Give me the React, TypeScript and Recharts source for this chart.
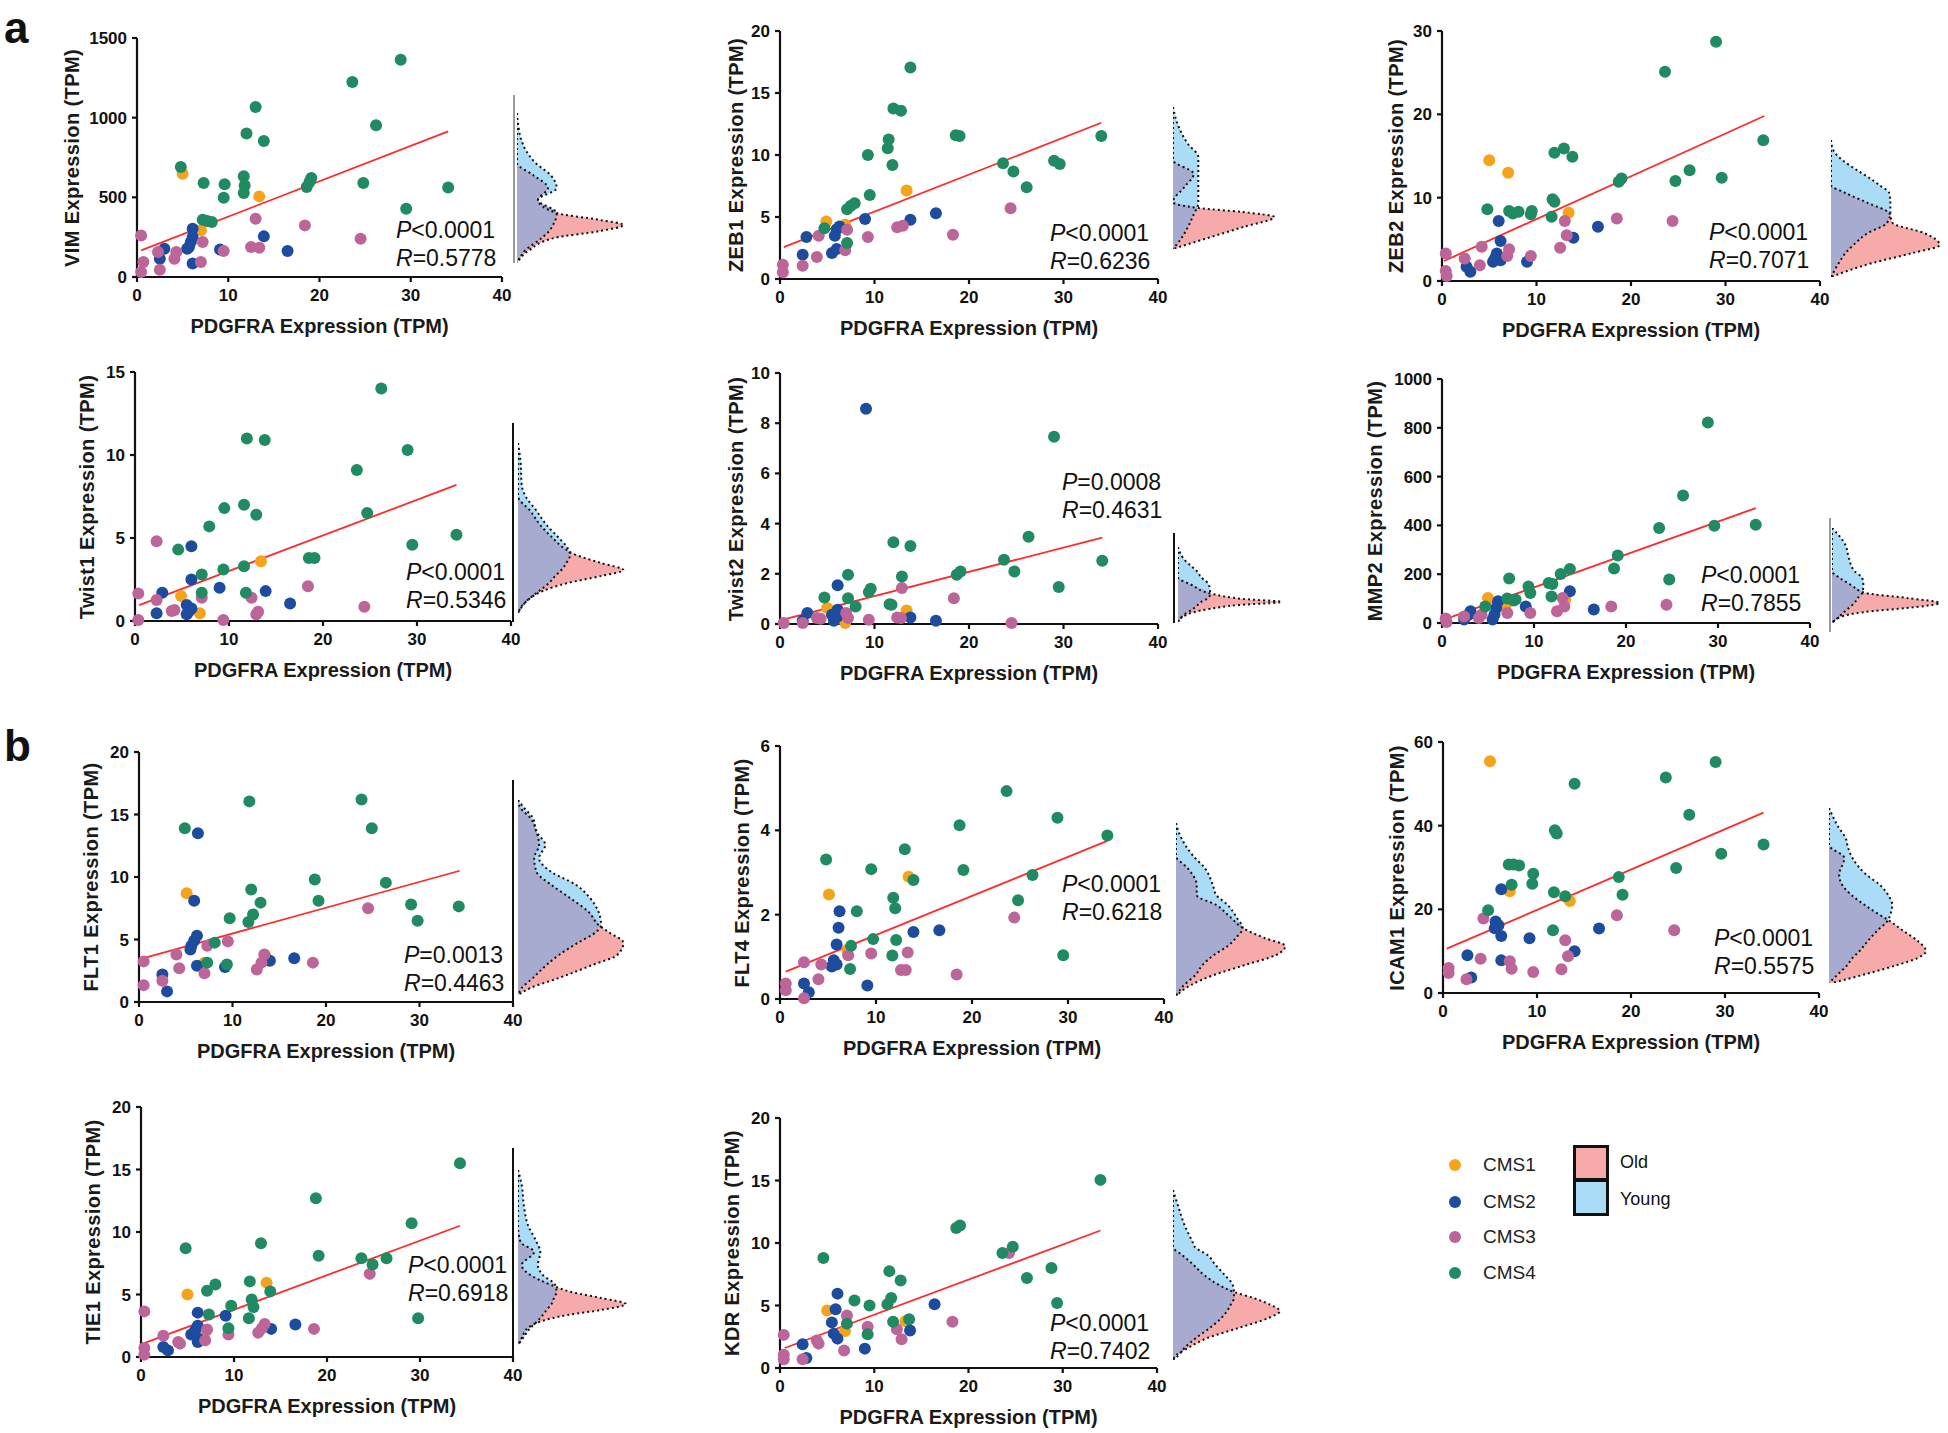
import React from 'react';
import { ComposedChart, Scatter, XAxis, YAxis, ReferenceLine, AreaChart, Area } from 'recharts';

type Pt = [number, number, number];

// ---------- legend / categories ----------
const CMS_NAMES = ['CMS1', 'CMS2', 'CMS3', 'CMS4'];
const CMS_COLORS = ['#f6a31c', '#1d4c9f', '#bd6598', '#208a62'];
const AGE_NAMES = ['Old', 'Young'];
const AGE_COLORS = ['#f7aaaa', '#aadcf8'];
const OVERLAP_COLOR = '#a7abd0';
const X_TICKS = [0, 10, 20, 30, 40];
const X_LABEL = 'PDGFRA Expression (TPM)';

// ---------- scatter data: [PDGFRA, gene, CMS group] ----------
const VIM_PTS: Pt[] = [
  [28.9, 1364, 4], [23.6, 1224, 4], [13.0, 1067, 4], [26.2, 952, 4], [12.0, 900, 4], [13.9, 854, 4], [4.8, 690, 4], [7.3, 590, 4], [9.6, 582, 4], [9.5, 498, 4], [11.7, 632, 4], [11.8, 575, 4], [11.7, 527, 4], [19.1, 621, 4], [18.9, 596, 4], [18.6, 565, 4], [24.8, 590, 4], [29.5, 429, 4], [34.1, 561, 4], [7.2, 360, 4], [7.7, 351, 4], [8.2, 345, 4],
  [5.0, 648, 1], [13.4, 506, 1], [7.0, 293, 1],
  [6.1, 303, 2], [6.1, 251, 2], [5.9, 220, 2], [5.7, 188, 2], [5.5, 178, 2], [3.0, 178, 2], [2.5, 115, 2], [6.1, 84, 2], [9.1, 172, 2], [13.9, 255, 2], [16.5, 163, 2],
  [0.45, 261, 3], [0.7, 94, 3], [0.45, 31, 3], [2.5, 46, 3], [2.3, 157, 3], [4.1, 115, 3], [4.3, 157, 3], [7.2, 220, 3], [7.0, 94, 3], [9.5, 163, 3], [12.5, 188, 3], [13.4, 184, 3], [13.0, 366, 3], [18.4, 324, 3], [24.5, 240, 3],
];
const VIM_LINE = [[0.45, 167], [34.1, 914]];

const ZEB1_PTS: Pt[] = [
  [13.8, 17.05, 4], [12.0, 13.75, 4], [12.8, 13.57, 4], [11.5, 11.26, 4], [11.4, 10.54, 4], [11.9, 9.2, 4], [9.3, 10.0, 4], [9.5, 6.78, 4], [7.1, 5.63, 4], [7.5, 5.9, 4], [7.9, 6.11, 4], [18.6, 11.6, 4], [19.0, 11.53, 4], [23.6, 9.33, 4], [24.7, 8.66, 4], [26.1, 7.4, 4], [29.0, 9.54, 4], [29.6, 9.28, 4], [34.0, 11.53, 4], [7.1, 2.9, 4], [4.7, 4.1, 4],
  [4.9, 4.64, 1], [6.9, 4.37, 1], [13.4, 7.13, 1],
  [2.8, 3.38, 2], [2.4, 1.96, 2], [5.8, 3.49, 2], [6.0, 4.02, 2], [6.3, 4.24, 2], [5.5, 2.09, 2], [6.0, 2.41, 2], [9.0, 4.83, 2], [13.8, 4.77, 2], [16.5, 5.31, 2],
  [0.3, 1.15, 3], [0.3, 0.54, 3], [2.4, 1.07, 3], [3.9, 1.77, 3], [4.1, 3.49, 3], [6.9, 2.31, 3], [7.1, 3.97, 3], [9.3, 3.38, 3], [12.4, 4.18, 3], [13.0, 4.29, 3], [18.3, 3.57, 3], [24.4, 5.71, 3],
];
const ZEB1_LINE = [[0.4, 2.57], [34.0, 12.6]];

const ZEB2_PTS: Pt[] = [
  [29.0, 28.7, 4], [23.6, 25.1, 4], [34.0, 16.9, 4], [11.9, 15.4, 4], [12.9, 15.9, 4], [13.8, 14.9, 4], [26.2, 13.3, 4], [29.6, 12.4, 4], [24.7, 12.0, 4], [18.7, 11.9, 4], [19.0, 12.3, 4], [11.7, 9.8, 4], [11.9, 9.5, 4], [4.8, 8.6, 4], [7.1, 8.4, 4], [7.5, 8.1, 4], [8.1, 8.3, 4], [9.5, 8.4, 4], [9.4, 8.0, 4], [11.6, 7.7, 4],
  [5.0, 14.5, 1], [7.0, 13.0, 1], [13.4, 8.2, 1],
  [6.0, 7.2, 2], [6.2, 4.8, 2], [5.8, 3.3, 2], [5.6, 2.7, 2], [5.4, 2.3, 2], [6.2, 2.5, 2], [2.6, 1.7, 2], [3.0, 1.1, 2], [9.0, 2.3, 2], [13.9, 5.2, 2], [16.5, 6.5, 2],
  [0.4, 3.3, 3], [0.4, 1.2, 3], [0.5, 0.6, 3], [2.4, 2.7, 3], [4.0, 1.9, 3], [4.2, 4.1, 3], [7.1, 3.8, 3], [6.9, 3.0, 3], [9.4, 3.0, 3], [12.5, 4.0, 3], [13.2, 5.5, 3], [13.0, 7.2, 3], [18.5, 7.5, 3], [24.4, 7.2, 3],
];
const ZEB2_LINE = [[0.2, 2.4], [34.1, 19.8]];

const TWIST1_PTS: Pt[] = [
  [26.2, 14.0, 4], [11.9, 11.0, 4], [13.8, 10.9, 4], [29.0, 10.3, 4], [23.6, 9.1, 4], [9.5, 6.8, 4], [11.6, 7.0, 4], [12.9, 6.4, 4], [24.7, 6.5, 4], [7.9, 5.7, 4], [34.2, 5.2, 4], [29.5, 4.6, 4], [4.6, 4.3, 4], [18.5, 3.8, 4], [19.1, 3.8, 4], [9.4, 3.1, 4], [11.6, 3.3, 4], [7.1, 2.8, 4], [7.1, 1.7, 4], [11.8, 1.7, 4],
  [13.4, 3.6, 1], [4.9, 1.5, 1], [6.9, 0.46, 1],
  [6.0, 4.5, 2], [6.0, 2.5, 2], [2.9, 1.7, 2], [2.3, 0.46, 2], [5.5, 0.96, 2], [5.7, 0.56, 2], [6.0, 0.76, 2], [5.5, 0.4, 2], [9.0, 2.0, 2], [13.9, 1.8, 2], [16.5, 1.06, 2],
  [2.3, 4.8, 3], [0.35, 1.66, 3], [0.35, 0.06, 3], [2.3, 1.26, 3], [3.9, 0.6, 3], [4.2, 0.66, 3], [7.1, 1.4, 3], [9.4, 0.06, 3], [12.4, 1.4, 3], [13.1, 0.56, 3], [12.9, 0.4, 3], [18.4, 2.1, 3], [24.4, 0.86, 3],
];
const TWIST1_LINE = [[0.44, 0.96], [34.2, 8.2]];

const TWIST2_PTS: Pt[] = [
  [9.1, 8.58, 2], [6.1, 1.54, 2], [2.9, 0.44, 2], [2.4, 0.13, 2], [5.5, 0.37, 2], [5.7, 0.13, 2], [6.1, 0.57, 2], [6.1, 0.3, 2], [13.8, 0.26, 2], [16.5, 0.13, 2],
  [29.0, 7.46, 4], [26.3, 3.48, 4], [12.0, 3.26, 4], [13.8, 3.11, 4], [23.7, 2.56, 4], [34.1, 2.52, 4], [18.7, 1.96, 4], [19.1, 2.09, 4], [24.8, 2.09, 4], [12.9, 1.89, 4], [7.2, 1.96, 4], [9.6, 1.4, 4], [9.4, 1.27, 4], [29.5, 1.47, 4], [4.7, 1.06, 4], [7.2, 1.03, 4], [8.0, 0.7, 4], [11.6, 0.79, 4], [11.8, 0.77, 4],
  [5.0, 0.64, 1], [13.4, 0.54, 1], [6.9, 0.04, 1],
  [12.9, 1.43, 3], [18.4, 1.03, 3], [0.4, 0.04, 3], [2.4, 0.04, 3], [3.9, 0.24, 3], [4.3, 0.21, 3], [7.0, 0.44, 3], [7.2, 0.24, 3], [9.4, 0.17, 3], [12.4, 0.26, 3], [12.8, 0.24, 3], [24.5, 0.04, 3],
];
const TWIST2_LINE = [[0.3, 0.17], [34.1, 3.44]];

const MMP2_PTS: Pt[] = [
  [28.9, 822, 4], [26.2, 523, 4], [23.6, 389, 4], [29.6, 399, 4], [34.1, 403, 4], [19.1, 277, 4], [18.7, 223, 4], [24.7, 178, 4], [13.9, 221, 4], [12.9, 201, 4], [7.3, 182, 4], [9.4, 150, 4], [9.6, 123, 4], [11.6, 164, 4], [12.0, 160, 4], [11.9, 109, 4], [7.1, 100, 4], [8.0, 96, 4], [7.8, 92, 4], [4.7, 68, 4],
  [5.0, 102, 1], [13.4, 96, 1], [6.9, 68, 1],
  [13.9, 130, 2], [16.5, 55, 2], [9.1, 68, 2], [6.1, 89, 2], [5.9, 61, 2], [5.7, 34, 2], [5.5, 14, 2], [3.1, 48, 2], [2.9, 34, 2], [2.4, 14, 2],
  [13.1, 102, 3], [13.3, 68, 3], [12.5, 48, 3], [18.4, 68, 3], [24.4, 75, 3], [9.6, 41, 3], [7.1, 41, 3], [4.3, 34, 3], [4.0, 20, 3], [2.4, 27, 3], [0.4, 18, 3], [0.5, 4, 3],
];
const MMP2_LINE = [[0.2, 14], [34.1, 471]];

const FLT1_PTS: Pt[] = [
  [11.8, 16.05, 4], [23.8, 16.2, 4], [24.9, 13.9, 4], [4.9, 13.9, 4], [18.8, 9.8, 4], [26.4, 9.55, 4], [12.0, 9.0, 4], [13.0, 7.95, 4], [19.2, 8.1, 4], [29.1, 7.8, 4], [34.2, 7.65, 4], [9.7, 6.7, 4], [12.2, 7.0, 4], [11.7, 6.4, 4], [29.8, 6.5, 4], [8.1, 4.75, 4], [7.3, 3.15, 4], [9.4, 3.0, 4],
  [5.1, 8.7, 1], [13.5, 3.7, 1], [7.0, 3.15, 1],
  [6.3, 13.5, 2], [5.9, 8.1, 2], [6.2, 5.3, 2], [5.9, 4.9, 2], [5.6, 4.5, 2], [5.5, 4.2, 2], [6.2, 2.9, 2], [2.5, 2.2, 2], [3.0, 0.85, 2], [9.2, 2.8, 2], [14.0, 3.3, 2], [16.6, 3.5, 2],
  [24.5, 7.5, 3], [7.3, 4.5, 3], [9.5, 4.85, 3], [4.0, 3.8, 3], [0.5, 3.25, 3], [4.3, 2.7, 3], [7.0, 2.3, 3], [2.5, 1.7, 3], [0.5, 1.35, 3], [13.4, 3.8, 3], [13.1, 3.15, 3], [12.6, 2.6, 3], [18.6, 3.15, 3],
];
const FLT1_LINE = [[0.2, 3.45], [34.3, 10.5]];

const FLT4_PTS: Pt[] = [
  [23.6, 4.93, 4], [28.9, 4.3, 4], [18.7, 4.12, 4], [34.1, 3.88, 4], [13.0, 3.55, 4], [4.8, 3.31, 4], [9.5, 3.08, 4], [19.1, 3.06, 4], [26.3, 2.94, 4], [13.9, 2.82, 4], [11.8, 2.4, 4], [24.8, 2.34, 4], [12.0, 2.15, 4], [8.0, 2.08, 4], [9.7, 1.42, 4], [12.1, 1.4, 4], [7.4, 1.26, 4], [11.7, 1.03, 4], [29.5, 1.04, 4], [7.3, 0.71, 4],
  [5.1, 2.48, 1], [13.4, 2.9, 1], [7.0, 1.16, 1],
  [6.2, 2.08, 2], [6.1, 1.69, 2], [5.9, 1.29, 2], [5.6, 0.92, 2], [5.9, 0.82, 2], [5.4, 0.77, 2], [13.9, 1.59, 2], [16.6, 1.63, 2], [2.5, 0.37, 2], [3.0, 0.16, 2], [9.1, 0.32, 2],
  [24.4, 1.93, 3], [9.5, 1.08, 3], [13.3, 1.1, 3], [7.1, 1.04, 3], [12.6, 0.69, 3], [13.1, 0.69, 3], [18.4, 0.58, 3], [4.3, 0.82, 3], [4.0, 0.47, 3], [2.5, 0.87, 3], [0.6, 0.37, 3], [0.6, 0.21, 3], [2.5, 0.02, 3],
];
const FLT4_LINE = [[0.6, 0.65], [34.1, 3.75]];

const ICAM1_PTS: Pt[] = [
  [29.0, 55.2, 4], [23.7, 51.5, 4], [14.0, 50.0, 4], [26.2, 42.6, 4], [11.9, 38.9, 4], [12.1, 38.1, 4], [34.1, 35.5, 4], [29.6, 33.3, 4], [7.0, 30.7, 4], [7.5, 30.7, 4], [8.1, 30.5, 4], [24.8, 29.9, 4], [9.6, 28.5, 4], [9.5, 26.1, 4], [7.3, 25.9, 4], [18.7, 27.7, 4], [19.1, 23.5, 4], [11.8, 24.1, 4], [13.0, 23.1, 4], [4.8, 19.8, 4], [11.7, 15.0, 4],
  [5.0, 55.4, 1], [7.1, 24.3, 1], [13.5, 22.0, 1],
  [6.2, 24.8, 2], [5.6, 17.1, 2], [5.9, 16.2, 2], [5.5, 15.5, 2], [6.2, 13.6, 2], [9.2, 13.1, 2], [16.6, 15.4, 2], [14.0, 10.0, 2], [6.2, 7.8, 2], [2.6, 9.0, 2], [3.0, 3.7, 2],
  [4.3, 17.8, 3], [18.5, 18.6, 3], [24.6, 15.0, 3], [13.0, 12.6, 3], [13.3, 8.8, 3], [4.0, 8.2, 3], [7.1, 7.6, 3], [7.3, 5.8, 3], [9.6, 5.0, 3], [12.6, 5.7, 3], [0.6, 6.0, 3], [0.6, 4.8, 3], [2.5, 3.3, 3],
];
const ICAM1_LINE = [[0.4, 10.6], [34.1, 43.1]];

const TIE1_PTS: Pt[] = [
  [34.3, 15.5, 4], [18.8, 12.7, 4], [29.1, 10.7, 4], [4.8, 8.7, 4], [12.9, 9.1, 4], [19.1, 8.1, 4], [23.7, 7.9, 4], [24.9, 7.4, 4], [26.4, 7.9, 4], [11.7, 6.05, 4], [8.0, 5.8, 4], [7.1, 5.3, 4], [13.9, 5.25, 4], [11.9, 4.6, 4], [12.1, 4.0, 4], [9.7, 4.1, 4], [11.6, 3.1, 4], [7.3, 3.4, 4], [9.4, 2.3, 4], [29.8, 3.1, 4],
  [5.0, 5.0, 1], [13.5, 5.95, 1], [6.9, 1.95, 1],
  [6.1, 3.55, 2], [9.1, 3.3, 2], [16.6, 2.6, 2], [14.0, 2.25, 2], [6.1, 2.5, 2], [5.8, 2.1, 2], [5.4, 1.8, 2], [6.2, 1.45, 2], [6.1, 1.2, 2], [2.4, 0.8, 2], [2.9, 0.53, 2],
  [24.6, 6.65, 3], [0.36, 3.65, 3], [2.4, 1.7, 3], [4.0, 1.2, 3], [4.2, 1.07, 3], [6.9, 1.33, 3], [7.1, 2.2, 3], [9.4, 1.8, 3], [12.6, 1.95, 3], [13.0, 2.3, 3], [13.3, 2.65, 3], [18.6, 2.25, 3], [0.36, 0.72, 3], [0.36, 0.19, 3],
];
const TIE1_LINE = [[0.2, 1.07], [34.3, 10.5]];

const KDR_PTS: Pt[] = [
  [34.0, 15.05, 4], [18.7, 11.2, 4], [19.1, 11.4, 4], [4.6, 8.8, 4], [23.6, 9.2, 4], [24.7, 9.7, 4], [28.8, 8.0, 4], [11.6, 7.75, 4], [12.8, 7.0, 4], [26.2, 7.2, 4], [7.9, 5.4, 4], [9.5, 5.0, 4], [11.8, 5.6, 4], [11.4, 5.1, 4], [29.4, 5.2, 4], [12.0, 3.7, 4], [13.7, 3.9, 4], [7.1, 3.55, 4], [9.3, 2.7, 4],
  [5.0, 4.6, 1], [13.3, 3.75, 1], [6.9, 2.95, 1],
  [6.1, 5.95, 2], [5.9, 4.7, 2], [5.5, 3.65, 2], [5.7, 2.75, 2], [6.1, 2.35, 2], [16.4, 5.1, 2], [13.8, 3.0, 2], [2.4, 1.9, 2], [2.8, 0.8, 2], [9.0, 1.55, 2],
  [24.3, 9.2, 3], [7.1, 4.2, 3], [9.3, 3.3, 3], [12.4, 3.1, 3], [12.9, 2.3, 3], [18.3, 3.7, 3], [3.9, 2.2, 3], [4.1, 1.95, 3], [0.4, 2.65, 3], [0.4, 1.07, 3], [0.4, 0.7, 3], [2.4, 0.7, 3], [6.8, 1.4, 3],
];
const KDR_LINE = [[0.5, 1.6], [34.0, 11.0]];

// ---------- marginal densities (depth from top of marginal, young / old density) ----------
const VIM_DEN = { d: [0, 12, 25, 37, 50, 62, 75, 87, 100, 107, 112, 118, 125, 137, 150], young: [0, 1, 3, 7, 15, 27, 32, 17, 32, 31, 29, 26, 20, 7, 0], old: [0, 0, 0, 0, 0, 13, 25, 17, 32, 67, 86, 67, 30, 10, 0] };
const ZEB1_DEN = { d: [0, 20, 37, 50, 53, 67, 80, 95, 101, 105, 110, 120, 130, 142], young: [0, 5, 13, 22, 22, 22, 22, 22, 21, 19, 17, 13, 8, 0], old: [0, 0, 0, 0, 0, 18, 10, 0, 22, 60, 88, 61, 33, 0] };
const ZEB2_DEN = { d: [0, 10, 20, 30, 40, 45, 53, 63, 73, 83, 93, 105, 113, 123, 137], young: [0, 2, 10, 23, 37, 43, 52, 53, 53, 50, 33, 20, 13, 7, 0], old: [0, 0, 0, 0, 0, 0, 13, 33, 52, 55, 83, 97, 73, 37, 0] };
const TWIST1_DEN = { d: [0, 18, 42, 53, 68, 82, 95, 105, 112, 120, 127, 133, 140, 148, 158, 170], young: [0, 2, 3, 6, 15, 23, 33, 40, 42, 39, 35, 30, 25, 17, 7, 0], old: [0, 0, 0, 0, 10, 18, 28, 37, 47, 67, 85, 67, 40, 20, 7, 0] };
const TWIST2_DEN = { d: [0, 12, 25, 30, 38, 47, 52, 55, 58, 62, 68, 75], young: [0, 5, 17, 20, 27, 28, 25, 20, 17, 13, 5, 0], old: [0, 0, 0, 0, 12, 30, 57, 90, 53, 27, 7, 0] };
const MMP2_DEN = { d: [0, 17, 30, 43, 50, 57, 65, 70, 75, 80, 83, 88, 95], young: [0, 12, 15, 20, 27, 28, 27, 23, 20, 15, 12, 7, 0], old: [0, 0, 0, 0, 7, 17, 30, 67, 96, 67, 37, 10, 0] };
const FLT1_DEN = { d: [0, 8, 18, 32, 45, 58, 72, 85, 98, 112, 125, 132, 143, 155, 165, 178, 188, 195], young: [0, 5, 12, 15, 22, 17, 27, 47, 58, 65, 67, 63, 48, 33, 23, 12, 3, 0], old: [0, 2, 10, 15, 17, 13, 15, 27, 42, 57, 65, 73, 85, 80, 60, 33, 10, 0] };
const FLT4_DEN = { d: [0, 8, 22, 33, 45, 62, 72, 82, 95, 105, 115, 123, 132, 142, 152, 162, 173], young: [0, 2, 8, 15, 25, 32, 35, 45, 53, 58, 52, 45, 33, 23, 17, 7, 0], old: [0, 0, 0, 0, 10, 18, 18, 35, 48, 58, 77, 95, 87, 60, 33, 13, 0] };
const ICAM1_DEN = { d: [0, 17, 32, 37, 50, 67, 77, 87, 97, 107, 112, 123, 133, 143, 150, 157, 165, 175], young: [0, 8, 17, 18, 23, 37, 50, 58, 62, 60, 58, 47, 38, 30, 23, 18, 10, 0], old: [0, 0, 0, 0, 15, 10, 13, 22, 35, 50, 58, 73, 87, 95, 87, 67, 40, 3] };
const TIE1_DEN = { d: [0, 15, 38, 55, 72, 82, 95, 105, 115, 122, 128, 134, 140, 145, 152, 158, 168, 175], young: [0, 3, 5, 8, 15, 18, 16, 20, 30, 31, 29, 27, 23, 20, 15, 10, 4, 0], old: [0, 0, 0, 0, 2, 13, 3, 10, 27, 43, 67, 87, 67, 40, 17, 8, 3, 0] };
const KDR_DEN = { d: [0, 18, 35, 52, 57, 65, 75, 85, 95, 102, 108, 115, 121, 128, 138, 148, 158, 165, 170], young: [0, 5, 10, 17, 19, 30, 37, 45, 52, 53, 53, 50, 47, 42, 32, 20, 10, 5, 0], old: [0, 0, 0, 0, 0, 8, 18, 27, 40, 53, 70, 85, 93, 83, 57, 30, 13, 3, 0] };

// ---------- panel layout ----------
const FONT = '"Liberation Sans", Arial, Helvetica, sans-serif';

type Panel = {
  gene: string; pts: Pt[]; line: number[][]; yMax: number; yTicks: number[];
  box: [number, number, number, number]; yTitleX: number;
  pText: string; rText: string; stat: [number, number];
  den: { d: number[]; young: number[]; old: number[] }; margin: [number, number]; denScale: number;
  axisLine?: [number, number, number, string];
};

const PANELS: Panel[] = [
  { gene: 'VIM', pts: VIM_PTS, line: VIM_LINE, yMax: 1500, yTicks: [0, 500, 1000, 1500], box: [137, 38, 502, 277], yTitleX: 72, pText: '<0.0001', rText: '0.5778', stat: [396, 230], den: VIM_DEN, margin: [517, 113], denScale: 1.24, axisLine: [514, 95, 263, '#9a9a9a'] },
  { gene: 'ZEB1', pts: ZEB1_PTS, line: ZEB1_LINE, yMax: 20, yTicks: [0, 5, 10, 15, 20], box: [780, 31, 1158, 279], yTitleX: 736, pText: '<0.0001', rText: '0.6236', stat: [1050, 233], den: ZEB1_DEN, margin: [1173, 107], denScale: 1.15 },
  { gene: 'ZEB2', pts: ZEB2_PTS, line: ZEB2_LINE, yMax: 30, yTicks: [0, 10, 20, 30], box: [1442, 31, 1820, 281], yTitleX: 1396, pText: '<0.0001', rText: '0.7071', stat: [1709, 232], den: ZEB2_DEN, margin: [1831, 140], denScale: 1.12 },
  { gene: 'Twist1', pts: TWIST1_PTS, line: TWIST1_LINE, yMax: 15, yTicks: [0, 5, 10, 15], box: [135, 372, 511, 621], yTitleX: 87, pText: '<0.0001', rText: '0.5346', stat: [406, 572], den: TWIST1_DEN, margin: [518, 443], denScale: 1.24, axisLine: [513, 423, 622, '#111'] },
  { gene: 'Twist2', pts: TWIST2_PTS, line: TWIST2_LINE, yMax: 10, yTicks: [0, 2, 4, 6, 8, 10], box: [780, 373, 1158, 624], yTitleX: 736, pText: '=0.0008', rText: '0.4631', stat: [1062, 482], den: TWIST2_DEN, margin: [1178, 547], denScale: 1.15, axisLine: [1174, 533, 623, '#111'] },
  { gene: 'MMP2', pts: MMP2_PTS, line: MMP2_LINE, yMax: 1000, yTicks: [0, 200, 400, 600, 800, 1000], box: [1442, 379, 1810, 623], yTitleX: 1375, pText: '<0.0001', rText: '0.7855', stat: [1701, 575], den: MMP2_DEN, margin: [1832, 528], denScale: 1.12, axisLine: [1830, 518, 632, '#9a9a9a'] },
  { gene: 'FLT1', pts: FLT1_PTS, line: FLT1_LINE, yMax: 20, yTicks: [0, 5, 10, 15, 20], box: [139, 752, 513, 1002], yTitleX: 91, pText: '=0.0013', rText: '0.4463', stat: [404, 955], den: FLT1_DEN, margin: [518, 800], denScale: 1.24, axisLine: [513, 780, 1002, '#111'] },
  { gene: 'FLT4', pts: FLT4_PTS, line: FLT4_LINE, yMax: 6, yTicks: [0, 2, 4, 6], box: [780, 746, 1164, 999], yTitleX: 742, pText: '<0.0001', rText: '0.6218', stat: [1062, 884], den: FLT4_DEN, margin: [1176, 823], denScale: 1.15 },
  { gene: 'ICAM1', pts: ICAM1_PTS, line: ICAM1_LINE, yMax: 60, yTicks: [0, 20, 40, 60], box: [1443, 742, 1819, 993], yTitleX: 1397, pText: '<0.0001', rText: '0.5575', stat: [1714, 938], den: ICAM1_DEN, margin: [1829, 808], denScale: 1.02 },
  { gene: 'TIE1', pts: TIE1_PTS, line: TIE1_LINE, yMax: 20, yTicks: [0, 5, 10, 15, 20], box: [141, 1107, 513, 1357], yTitleX: 93, pText: '<0.0001', rText: '0.6918', stat: [408, 1265], den: TIE1_DEN, margin: [518, 1170], denScale: 1.24, axisLine: [513, 1148, 1358, '#111'] },
  { gene: 'KDR', pts: KDR_PTS, line: KDR_LINE, yMax: 20, yTicks: [0, 5, 10, 15, 20], box: [780, 1118, 1157, 1368], yTitleX: 732, pText: '<0.0001', rText: '0.7402', stat: [1050, 1323], den: KDR_DEN, margin: [1173, 1190], denScale: 1.15 },
];

const TICK = { fontSize: 17, fontWeight: 700, fill: '#111', fontFamily: FONT };
const AXIS_STROKE = { stroke: '#111', strokeWidth: 2.2 };
const DOT_R = 6;
const MARG_W = 130;

function Marginal({ p }: { p: Panel }) {
  const den = p.den;
  const rows = den.d.map((d, i) => ({ d, young: den.young[i], old: den.old[i], both: Math.min(den.young[i], den.old[i]) }));
  const hh = den.d[den.d.length - 1];
  return (
    <div style={{ position: 'absolute', left: p.margin[0], top: p.margin[1] }}>
      <AreaChart layout="vertical" width={MARG_W} height={hh} data={rows} margin={{ top: 0, right: 0, bottom: 0, left: 0 }}>
        <XAxis type="number" domain={[0, MARG_W / p.denScale]} hide />
        <YAxis type="number" dataKey="d" domain={[0, hh]} hide />
        <Area dataKey="young" type="monotone" fill={AGE_COLORS[1]} fillOpacity={1} stroke="none" isAnimationActive={false} />
        <Area dataKey="old" type="monotone" fill={AGE_COLORS[0]} fillOpacity={1} stroke="none" isAnimationActive={false} />
        <Area dataKey="both" type="monotone" fill={OVERLAP_COLOR} fillOpacity={1} stroke="none" isAnimationActive={false} />
        <Area dataKey="young" type="monotone" fill="none" stroke="#111" strokeWidth={2} strokeDasharray="2 3" isAnimationActive={false} />
        <Area dataKey="old" type="monotone" fill="none" stroke="#111" strokeWidth={2} strokeDasharray="2 3" isAnimationActive={false} />
      </AreaChart>
    </div>
  );
}

function PanelView({ p }: { p: Panel }) {
  const [L, T, R, B] = p.box;
  const chartW = R - L + 90;
  const chartH = B - T + 50;
  const series = CMS_NAMES.map((name, i) => ({
    name,
    color: CMS_COLORS[i],
    data: p.pts.filter((q) => q[2] === i + 1).map((q) => ({ x: q[0], y: q[1] })),
  }));
  return (
    <>
      <div style={{ position: 'absolute', left: L - 80, top: T - 10 }}>
        <ComposedChart width={chartW} height={chartH} margin={{ top: 10, right: 10, bottom: 0, left: 0 }}>
          <XAxis type="number" dataKey="x" domain={[0, 40]} ticks={X_TICKS} interval={0} height={40} tickSize={5} tickMargin={7} axisLine={AXIS_STROKE} tickLine={AXIS_STROKE} tick={TICK} />
          <YAxis type="number" dataKey="y" domain={[0, p.yMax]} ticks={p.yTicks} interval={0} width={80} tickSize={5} tickMargin={5} axisLine={AXIS_STROKE} tickLine={AXIS_STROKE} tick={TICK} />
          <ReferenceLine segment={[{ x: p.line[0][0], y: p.line[0][1] }, { x: p.line[1][0], y: p.line[1][1] }]} stroke="#ff2b2b" strokeWidth={1.8} />
          {series.map((s) => (
            <Scatter
              key={s.name}
              name={s.name}
              data={s.data}
              fill={s.color}
              isAnimationActive={false}
              shape={(props: any) => <circle cx={props.cx} cy={props.cy} r={DOT_R} fill={s.color} />}
            />
          ))}
        </ComposedChart>
      </div>
      <div style={{ position: 'absolute', left: (L + R) / 2, top: B + 49, transform: 'translate(-50%, -50%)', fontFamily: FONT, fontWeight: 700, fontSize: 20, color: '#1a1a1a', whiteSpace: 'nowrap' }}>{X_LABEL}</div>
      <div style={{ position: 'absolute', left: p.yTitleX, top: (T + B) / 2, transform: 'translate(-50%, -50%) rotate(-90deg)', fontFamily: FONT, fontWeight: 700, fontSize: 20, letterSpacing: 0.4, color: '#1a1a1a', whiteSpace: 'nowrap' }}>{p.gene + ' Expression (TPM)'}</div>
      <div style={{ position: 'absolute', left: p.stat[0], top: p.stat[1] - 14, fontFamily: FONT, fontSize: 23, lineHeight: '28px', color: '#111', whiteSpace: 'nowrap' }}>
        <div><i>P</i>{p.pText}</div>
        <div><i>R</i>={p.rText}</div>
      </div>
      {p.axisLine && (
        <div style={{ position: 'absolute', left: p.axisLine[0] - 1, top: p.axisLine[1], width: 2, height: p.axisLine[2] - p.axisLine[1], background: p.axisLine[3] }} />
      )}
      <Marginal p={p} />
    </>
  );
}

function Legend() {
  const ys = [1165, 1202, 1237, 1273];
  return (
    <>
      {CMS_NAMES.map((n, i) => (
        <React.Fragment key={n}>
          <div style={{ position: 'absolute', left: 1449, top: ys[i] - 6, width: 12, height: 12, borderRadius: 6, background: CMS_COLORS[i] }} />
          <div style={{ position: 'absolute', left: 1483, top: ys[i] - 12, fontFamily: FONT, fontSize: 19, lineHeight: '24px', color: '#222' }}>{n}</div>
        </React.Fragment>
      ))}
      <div style={{ position: 'absolute', left: 1573, top: 1145, width: 30, height: 30, background: AGE_COLORS[0], border: '3px solid #111', borderBottomWidth: 2 }} />
      <div style={{ position: 'absolute', left: 1573, top: 1180, width: 30, height: 31, background: AGE_COLORS[1], border: '3px solid #111', borderTopWidth: 2 }} />
      <div style={{ position: 'absolute', left: 1620, top: 1150, fontFamily: FONT, fontSize: 18, lineHeight: '24px', color: '#111' }}>{AGE_NAMES[0]}</div>
      <div style={{ position: 'absolute', left: 1620, top: 1187, fontFamily: FONT, fontSize: 18, lineHeight: '24px', color: '#111' }}>{AGE_NAMES[1]}</div>
    </>
  );
}

export default function App() {
  return (
    <div style={{ position: 'absolute', left: 0, top: 0, width: 1948, height: 1433, background: '#fff', overflow: 'hidden' }}>
      <div style={{ position: 'absolute', left: 4, top: 3, fontFamily: FONT, fontWeight: 700, fontSize: 44, lineHeight: '50px', color: '#111' }}>a</div>
      <div style={{ position: 'absolute', left: 4, top: 721, fontFamily: FONT, fontWeight: 700, fontSize: 44, lineHeight: '50px', color: '#111' }}>b</div>
      {PANELS.map((p) => (
        <PanelView key={p.gene} p={p} />
      ))}
      <Legend />
    </div>
  );
}
